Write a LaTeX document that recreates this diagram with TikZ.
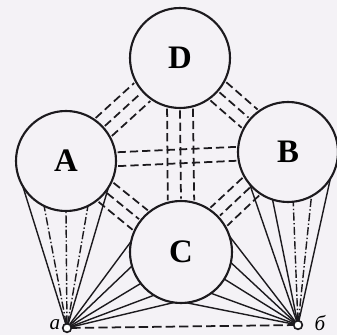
\documentclass[tikz,border=0pt]{standalone}
\usepackage{fontspec}
\setmainfont{Liberation Serif}
\usetikzlibrary{positioning}
\definecolor{ink}{HTML}{1C1A1E}
\definecolor{paper}{HTML}{F4F2F6}
\tikzset{
  unit/.style={circle, draw=ink, line width=1.8pt, minimum size=3cm, inner sep=0pt,
               outer sep=0pt, font=\fontsize{28}{28}\selectfont\bfseries},
  pin/.style={circle, draw=ink, fill=white, line width=1.4pt, minimum size=2.6mm,
              inner sep=0pt, outer sep=0pt},
  tie/.style={draw=ink, line width=1.5pt, dash pattern=on 7pt off 3.5pt,
              shorten <=2pt, shorten >=2pt},
  ray/.style={draw=ink, line width=1.2pt},
  dray/.style={ray, dash pattern=on 7pt off 2pt on 1.2pt off 2pt},
  base/.style={draw=ink, line width=1.5pt, dash pattern=on 8pt off 3.5pt},
  tag/.style={inner sep=0pt, font=\fontsize{18}{18}\selectfont\itshape}
}

\begin{document}
\begin{tikzpicture}[x=0.3mm,y=0.3mm]
  \fill[paper] (0,0) rectangle (337,335);
  \useasboundingbox (0,0) rectangle (337,335);

  \node[unit] (D) at (180,277) {D};
  \node[unit] (A) at (66,174) {A};
  \node[unit] (B) at (288,183) {B};
  \node[unit, minimum size=3.06cm] (C) at (181,83) {C};

  \node[pin] (a) at (67,7) {};
  \node[pin] (b) at (298,10) {};
  \node[tag] (la) at (55,10) {a};
  \node[tag] (lb) at (320,12) {б};

  % ties between the units
  \foreach \g in {-14,0,14} {
    \draw[tie] (A.{42+\g}) -- (D.{222-\g});
    \draw[tie] (D.{-41+\g}) -- (B.{139-\g});
    \draw[tie] (A.{-38+\g}) -- (C.{142-\g});
    \draw[tie] (B.{223+\g}) -- (C.{43-\g});
  }
  \foreach \g in {-15,0,15}
    \draw[tie] (D.{-90+\g}) -- (C.{90-\g});
  \foreach \g in {-8,8}
    \draw[tie] (A.{2+\g}) -- (B.{182-\g});

  % rays from the two points
  \foreach \t/\s in {-150/ray,-116/dray,-90/dray,-64/dray,-32/ray}
    \draw[\s] (a) -- (A.\t);
  \foreach \t/\s in {-140/ray,-108/ray,-84/dray,-62/dray,-32/ray}
    \draw[\s] (b) -- (B.\t);
  \foreach \t in {168,-164,-142,-122,-98}
    \draw[ray] (a) -- (C.\t);
  \foreach \t in {18,-12,-32,-54,-84}
    \draw[ray] (b) -- (C.\t);

  \draw[base] (a) -- (b);
\end{tikzpicture}
\end{document}
